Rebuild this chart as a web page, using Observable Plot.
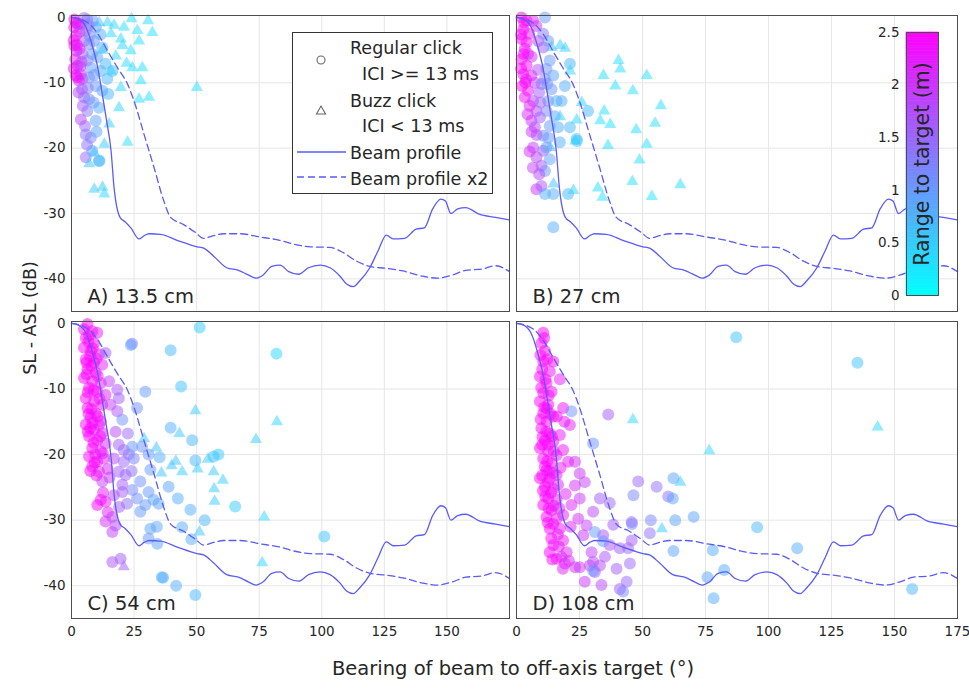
<!DOCTYPE html>
<html><head><meta charset="utf-8">
<script src="https://cdn.jsdelivr.net/npm/d3@7"></script>
<script src="https://cdn.jsdelivr.net/npm/@observablehq/plot@0.6"></script>
<style>
body{margin:0;background:#fff;font-family:"DejaVu Sans",sans-serif;}
#wrap{position:relative;width:969px;height:689px;overflow:hidden;background:#fff;}
#wrap > svg, #wrap > figure{position:absolute;margin:0;}
</style></head><body><div id="wrap"></div>
<script>
// ---------- data ----------
const beamX = [0,3,5.8,8.5,10.5,12.5,13.8,15.8,17,19.4,21.5,23.7,27,29,31,35.6,42.2,50.2,52.8,56.7,62,66.7,70.6,73.7,76.6,80,83.3,86.8,90.8,94.7,99.4,103.3,107.3,109.9,112.6,115.2,119.2,122.5,125.8,128.5,133.1,137.7,141,144.3,147.6,149.4,151.6,154.3,157.5,162.9,169.4,175];
const beamY = [0,-0.3,-1.5,-4.6,-7.7,-12.2,-15.3,-20.4,-26,-30.6,-31.3,-32.2,-33.9,-33.4,-33.1,-33.2,-34.1,-35.1,-35.3,-36.5,-38.3,-38.7,-39.4,-39.9,-39.4,-38.1,-37.9,-38.9,-39.3,-38.3,-37.9,-38.3,-39.6,-40.8,-41.2,-40.3,-38.3,-35.7,-33.3,-33.9,-33.8,-32.4,-32.2,-29.3,-27.8,-28.1,-30.0,-29.3,-29.1,-30.1,-30.6,-31.0];
const beam2X = [0,3.9,6.5,10.5,14.4,18.4,22.4,25,29,33,36.9,39.6,44.8,49.5,52.8,56.7,60.7,67.3,75.3,83.2,88.8,95.4,103.3,108.6,113.9,119.2,125.8,132.4,140.4,146.3,152.3,157.5,164.1,169.4,175];
const beam2Y = [0,-0.3,-0.8,-2.5,-5.1,-7.7,-10.2,-12.8,-17.9,-23,-28.1,-30.6,-31.7,-32.9,-33.8,-33.4,-33.1,-33.1,-33.6,-34.1,-34.7,-35.1,-35.2,-36.0,-37.3,-38.1,-38.4,-38.8,-39.6,-39.9,-39.4,-38.7,-38.5,-38.0,-38.9];

// [bearing (deg), SL-ASL (dB), range to target (m)]
const regA = [[1.1,-0.3,2.5],[1.1,-1.5,2.4],[1.7,-2.8,2.5],[1.1,-4.3,2.4],[2.0,-5.1,2.5],[1.5,-6.4,2.3],[2.4,-7.4,2.4],[1.7,-8.9,2.5],[3.0,-9.7,2.3],[3.7,-8.7,2.1],[4.4,-9.4,2.0],
[5.0,-0.1,1.5],[6.3,-0.3,1.3],[3.7,-1.0,1.8],[5.7,-2.0,1.4],[5.0,-3.6,1.6],[7.0,-4.1,1.2],[4.4,-5.6,1.7],[6.3,-6.6,1.3],[7.7,-7.7,1.0],[8.3,-5.6,1.0],[7.0,-9.2,1.2],
[5.0,-12.2,1.4],[7.0,-12.5,1.2],[6.3,-14.3,1.3],[3.7,-15.6,1.8],[5.4,-16.6,1.5],[5.7,-17.9,1.4],[7.7,-18.4,1.2],[5.7,-21.4,1.5],[11,-13.8,0.8],[14.7,-11.7,0.7],[9.7,-15.8,0.9],[11,-22,0.7],[8.3,-20.4,0.8],
[9.7,-1.5,0.9],[11.6,-2.6,0.8],[9.0,-3.6,1.0],[12.3,-4.6,0.8],[10.3,-6.1,0.9],[13.6,-7.1,0.7],[11.6,-8.2,0.8],[16.3,-8.2,0.6],[14.3,-9.4,0.7],[9.7,-10.5,1.0],[12.3,-11.2,0.9],[11.1,-21.9,0.7],
[2.5,-1,2.2],[3.2,-4.8,2.0],[4,-6.8,1.9],[2.8,-11.5,1.8],[8.5,-0.5,1.1],[7.2,-2.8,1.2],[4.5,-13.5,1.6],[6.5,-10.8,1.3],[8.8,-13,1.0],[10,-17.5,0.9],[9,-8.8,1.0],
[1.8,-0.8,2.4],[0.9,-3.5,2.5],[2.2,-4.2,2.4],[0.9,-7.8,2.5],[2.4,-9.2,2.4],[3.2,-2.2,2.1],[6.8,-1.2,1.3],[3.5,-7.5,1.9],[4.2,-11,1.6],[6.2,-19.5,1.4]];
const buzzA = [[14.4,-0.8,0.4],[24,-0.2,0.3],[30.6,-0.5,0.3],[32.3,-2.3,0.3],[26.3,-2.0,0.3],[19.7,-3.3,0.4],[15.8,-2.5,0.4],[27,-3.6,0.3],[23.7,-5.1,0.3],[20.4,-4.3,0.4],[17.7,-5.9,0.4],[28.3,-7.7,0.3],[24.3,-7.7,0.3],[15.8,-8.2,0.5],[27.7,-9.7,0.3],[19.7,-10.7,0.4],[50.1,-10.7,0.3],[27,-12.5,0.3],[31,-12.2,0.3],[19,-13.8,0.4],[15.1,-16.3,0.5],[22.4,-19.1,0.3],[13.1,-19.4,0.5],[9.1,-20.7,0.6],[7.1,-22.4,0.6],[9.1,-26.3,0.5],[12.4,-26,0.5],[13.1,-27,0.4],[11.1,-0.8,0.6],[21,-1.5,0.35],[17,-1.2,0.4],[22,-7,0.35],[12.5,-5,0.5]];

const regB = [[2.0,0,2.5],[4.0,-0.5,2.4],[2.7,-1.8,2.5],[2.0,-3.3,2.5],[3.3,-4.8,2.4],[2.0,-6.4,2.5],[4.0,-7.4,2.4],[2.7,-8.7,2.5],[4.6,-11.2,2.3],[3.3,-12.2,2.4],[5.9,-8.9,2.2],[4.6,-5.6,2.3],[6.6,-0.5,2.2],[7.9,-1.3,2.0],
[6.6,-12.8,1.9],[7.9,-14.3,1.8],[5.9,-15.8,2.0],[9.3,-15.3,1.6],[7.3,-16.8,1.8],[6.6,-19.9,1.9],[7.9,-21.4,1.8],[9.9,-22.7,1.7],[10.6,-20.4,1.6],[7.9,-26.3,2.0],[9.9,-25.8,1.7],[8.6,-3.6,1.8],[10.6,-4.6,1.6],[7.3,-10,1.9],
[11.3,0,1.0],[10.6,-2.5,1.3],[12.6,-3.6,1.0],[13.2,-6.6,1.0],[11.9,-7.9,1.1],[11.3,-9.4,1.2],[14.6,-8.9,0.9],[13.9,-11,1.0],[12.6,-12.8,1.1],[15.9,-12.8,0.8],[11.9,-14.3,1.2],[15.2,-15.1,0.9],[13.2,-16.6,1.0],[16.5,-16.8,0.8],[10.6,-18.1,1.1],[12.6,-18.4,1.0],[17.2,-19.1,0.8],[11.9,-19.9,1.0],[13.2,-21.7,0.9],[11.3,-23.5,1.0],
[21.2,-7.1,0.7],[19.2,-10.5,0.8],[17.9,-12.8,0.8],[28.4,-14.3,0.7],[21.2,-16.8,0.7],[23.8,-18.6,0.6],[14.6,-27.0,0.8],[11.3,-27.0,0.8],[20.5,-27.0,0.7],[14.6,-32.1,0.8],[24,-18.9,0.6],
[5,-2.5,2.3],[3.5,-10,2.4],[6,-6,2.1],[8.5,-8,1.7],[9,-11.5,1.6],[8,-18,1.7],[6.5,-23,1.9],[9.5,-13,1.5],
[3.0,-0.8,2.5],[1.8,-2.6,2.5],[4.0,-3.8,2.4],[2.8,-5.6,2.5],[1.8,-7.8,2.5],[3.8,-9.5,2.4],[2.2,-10.5,2.5],[5.2,-13.5,2.2],[4.4,-14.8,2.1],[6,-17.5,2.0],[5.2,-20.5,2.1],[9,-24,1.8],[10,-10.2,1.4],[12.2,-10.2,1.1]];
const buzzB = [[14,-4.6,0.6],[17.3,-4.3,0.5],[19.3,-4.7,0.5],[21.3,-8.2,0.4],[40.5,-6.6,0.3],[41.2,-7.9,0.3],[34.5,-8.9,0.3],[51.7,-8.9,0.3],[39.2,-10.5,0.3],[46.2,-11.2,0.3],[25.9,-13,0.4],[34.8,-14.3,0.3],[33.2,-15.8,0.3],[37.2,-16.4,0.3],[57.3,-13.5,0.3],[55,-16.2,0.3],[47.5,-17.2,0.3],[23.9,-15.7,0.4],[17.3,-15.2,0.5],[23.3,-18.9,0.4],[36.3,-19.6,0.3],[51.7,-19.4,0.3],[48.8,-21.8,0.3],[14.7,-25.5,0.6],[22.6,-26.5,0.4],[32.3,-26.1,0.3],[34.1,-27.5,0.3],[46.0,-25.1,0.3],[53.7,-27.4,0.25],[65,-25.6,0.3],[13.4,-19.9,0.7]];

const regC = [[6.4,-0.1,2.5],[5.0,-0.9,2.5],[8.3,-1.2,2.4],[10.3,-1.4,2.3],[5.7,-2.2,2.5],[9.0,-3.0,2.4],[5.0,-3.7,2.5],[7.7,-4.2,2.5],[11.0,-4.7,2.3],[5.7,-5.5,2.5],[9.0,-6.0,2.4],[12.3,-6.3,2.2],[6.4,-7.0,2.5],[9.7,-7.5,2.4],[5.0,-8.3,2.5],[8.3,-8.8,2.5],[11.7,-9.1,2.3],[7.0,-9.8,2.5],[10.3,-10.4,2.4],[13.6,-10.9,2.2],[5.7,-11.4,2.5],[9.0,-11.9,2.5],[12.3,-12.4,2.3],[6.4,-12.9,2.5],[9.7,-13.7,2.4],[7.7,-14.4,2.5],[11.7,-14.9,2.3],[5.7,-15.4,2.5],[9.0,-16.2,2.4],[12.3,-16.7,2.2],[7.0,-17.2,2.5],[10.3,-17.8,2.4],[13.6,-18.3,2.1],[8.3,-19.0,2.5],[11.7,-19.5,2.3],[7.0,-20.3,2.5],[10.3,-21.1,2.4],[13.0,-20.6,2.2],[8.3,-21.8,2.4],[11.0,-22.6,2.2],[12.3,-24.1,1.9],[11.7,-26.9,2.4],[13.6,-27.2,2.3],[10.3,-27.7,2.5],[13.6,-30.2,2.1],[16.3,-31.8,1.9],
[6,-6,2.5],[7,-1.8,2.5],[8,-6.5,2.5],[6.5,-10.5,2.5],[8,-13,2.5],[10.5,-8,2.4],[7.5,-16,2.5],[9.5,-20,2.4],[11,-15.5,2.3],[8.5,-3.8,2.5],
[6.8,-2.8,2.5],[7.5,-5,2.5],[10,-5.4,2.4],[6,-7.8,2.5],[8.8,-10.2,2.5],[11.2,-11.5,2.4],[6.8,-13.8,2.5],[10.5,-14.2,2.4],[8.4,-15.2,2.5],[6.5,-16.5,2.5],[11.5,-17.2,2.4],[8.8,-18.2,2.5],[12.5,-19.8,2.3],[9.2,-21.2,2.5],[7.5,-22.5,2.5],[10,-23.2,2.4],[14.4,-22.2,2.2],[12.6,-25.8,2.3],[14.5,-28.8,2.2],[15.2,-23.5,2.0],
[15,-8.8,1.9],[18.3,-10.1,1.7],[18.9,-11.4,1.6],[15.6,-12.4,1.9],[18.3,-13.4,1.7],[18.9,-18.5,1.6],[20.9,-19.3,1.5],[16.9,-20.6,1.8],[20.9,-21.1,1.5],[22.9,-20.0,1.4],[18.9,-22.6,1.6],[21.6,-23.1,1.5],[20.3,-24.6,1.6],[16.9,-26.2,1.8],[20.3,-25.7,1.6],[16.3,-29.5,1.9],[17.6,-30.8,1.8],[16.3,-36.4,1.7],[19.6,-35.9,1.6],[24.2,-3.1,1.3],[13.6,-4.5,1.6],[17.6,-16.5,1.8],[22.5,-16.8,1.5],[24,-22.5,1.4],[22.2,-27.5,1.4],[19,-28,1.6],
[29.5,-10.4,1.0],[26.2,-12.9,1.1],[20.3,-14.7,1.1],[28.2,-18.8,1.1],[30.8,-20.0,1.0],[24.9,-20.6,1.2],[31.5,-22.3,1.0],[27.5,-24.1,1.1],[30.8,-25.7,1.0],[26.2,-26.7,1.1],[29.5,-27.7,1.0],[32.8,-26.9,0.9],[27.5,-28.7,1.0],[34.8,-27.5,0.9],[31.5,-31.3,0.9],[34.1,-31.0,0.9],[30.8,-32.8,1.0],[36.1,-38.7,0.8],[38.8,-24.9,0.9],[24.3,-25.4,1.2],
[23.7,-3.3,0.9],[39.6,-4.1,0.7],[51.2,-0.6,0.5],[81.9,-4.6,0.4],[43.8,-9.6,0.6],[39.6,-15.9,0.8],[48.2,-17.8,0.7],[24.3,-18.8,1.0],[35.2,-20.4,0.8],[49.5,-20.9,0.7],[58.7,-20.0,0.5],[56.8,-20.3,0.6],[42.5,-26.7,0.8],[47.5,-28.4,0.8],[53.2,-30.0,0.7],[65.4,-27.9,0.5],[44.2,-31.1,0.8],[47.9,-32.9,0.8],[36.6,-38.8,0.8],[41.8,-40.0,0.8],[49.5,-41.4,0.7],[34.3,-33.6,0.9],[101,-32.5,0.6]];
const buzzC = [[49.5,-13.3,0.5],[82.1,-15.0,0.4],[43.1,-16.8,0.5],[73.7,-17.7,0.5],[29,-17.6,0.6],[33.9,-19,0.6],[41.7,-21,0.6],[40,-21.7,0.6],[44.2,-22.6,0.5],[35.9,-22.8,0.6],[54.5,-20.7,0.5],[50.4,-22.2,0.5],[56.8,-22.6,0.5],[60.5,-23.9,0.5],[57,-25.2,0.5],[57.2,-27.1,0.5],[77,-29.5,0.4],[51.1,-31.8,0.6],[76.2,-36.5,0.4],[20.9,-37.1,1.6]];

const regD = [[10.6,-1.4,2.5],[9.9,-3.0,2.5],[11.3,-4.2,2.5],[10.6,-5.8,2.5],[13.2,-7.3,2.4],[9.3,-8.1,2.5],[11.9,-9.1,2.5],[10.6,-10.6,2.5],[13.9,-10.4,2.4],[9.3,-11.9,2.5],[12.6,-12.4,2.5],[10.6,-13.7,2.5],[14.6,-14.2,2.4],[11.9,-15.0,2.5],[9.9,-16.0,2.5],[13.2,-16.8,2.5],[11.3,-17.8,2.5],[14.6,-18.0,2.4],[9.3,-19.0,2.5],[12.6,-19.5,2.5],[15.9,-20.1,2.3],[10.6,-20.6,2.5],[13.9,-21.3,2.4],[11.9,-22.4,2.5],[9.3,-23.6,2.5],[13.2,-23.6,2.4],[15.9,-23.1,2.3],[11.3,-24.9,2.5],[14.6,-25.2,2.4],[12.6,-26.7,2.5],[15.9,-26.9,2.3],[10.6,-27.7,2.5],[13.9,-28.5,2.4],[11.9,-29.5,2.5],[15.9,-29.8,2.3],[18.5,-29.2,2.2],[13.2,-31.3,2.5],[17.2,-31.3,2.3],[14.6,-33.8,2.4],[18.5,-33.1,2.3],[19.9,-34.9,2.2],[15.9,-35.9,2.4],[19.2,-36.6,2.3],[13.2,-34.9,2.5],[23.2,-37.2,2.1],[20.5,-21.1,2.3],[18.5,-19.3,2.3],[18.5,-12.9,2.4],[21.2,-15.5,2.2],[17.2,-17.0,2.3],[11,-2.2,2.5],[10.2,-7,2.5],[12,-13,2.5],[10.2,-18.5,2.5],[12.2,-21,2.5],[10.5,-25.5,2.5],
[9.5,-4.8,2.5],[12.2,-5.5,2.5],[11.5,-8.5,2.5],[9.8,-9.8,2.5],[12.8,-11,2.4],[11,-12.8,2.5],[13.5,-13.8,2.4],[9.6,-14.6,2.5],[11.8,-16.5,2.5],[14,-17.2,2.4],[10.3,-17.3,2.5],[12.5,-18.5,2.5],[14.8,-19.5,2.3],[11.2,-21.8,2.5],[13,-22.5,2.4],[14.6,-22.8,2.3],[10.2,-23.2,2.5],[12.4,-24.2,2.5],[16.5,-24.6,2.2],[13.8,-25.8,2.4],[11.4,-26.4,2.5],[14.8,-27.8,2.3],[12.8,-28.2,2.5],[17,-28.2,2.2],[12.4,-30.4,2.5],[14.6,-30.6,2.4],[16.4,-32.2,2.3],[13.8,-32.8,2.5],[16.8,-34,2.3],[17.8,-35.6,2.2],[14.2,-36,2.4],[20.8,-36.2,2.1],[18.4,-37.4,2.2],[21.5,-31,2.2],[19.5,-26,2.2],[17.5,-22,2.3],[19,-15,2.3],[16,-14.2,2.4],[17.2,-8.5,2.3],[14.6,-5.8,2.4],
[23.2,-21.1,2.1],[25.1,-22.9,2.0],[23.2,-24.7,2.1],[27.1,-24.2,1.9],[25.1,-26.7,2.0],[21.8,-27.7,2.2],[24.5,-29.8,2.1],[27.8,-30.8,1.9],[30.4,-28.7,1.8],[26.5,-32.3,2.0],[29.8,-34.9,1.9],[25.1,-37.2,2.0],[29.1,-36.9,1.9],[33.1,-36.9,1.8],[27.1,-39.4,2.0],[33.7,-39.9,1.8],
[36.4,-13.9,1.6],[48.3,-24.1,1.5],[33.1,-26.7,1.6],[37.0,-27.4,1.5],[38.4,-30.7,1.6],[34.4,-32.3,1.7],[41.0,-34.3,1.6],[44.3,-34.3,1.5],[45.7,-33.1,1.6],[37.0,-33.8,1.7],[39.7,-37.4,1.6],[45.0,-36.6,1.5],[41.0,-40.5,1.6],[43.7,-39.4,1.5],[35.1,-35.6,1.7],[30.4,-36.4,1.8],[31.1,-37.9,1.7],[55.6,-24.9,1.4],[60.2,-26.4,1.4],[52.9,-32.0,1.4],[45.7,-30.3,1.5],
[21.8,-13.4,1.1],[30.4,-18.3,1.1],[31.1,-31.8,1.0],[34.4,-33.2,1.0],[30.4,-37.7,1.0],[62.3,-23.6,0.9],[42.3,-40.9,1.2],
[87.2,-2.1,0.6],[62.0,-26.7,0.9],[63,-30.0,0.9],[70.3,-29.5,0.9],[62.3,-34.7,0.9],[77.9,-34.6,0.8],[75.8,-38.7,0.9],[82.4,-37.6,0.8],[78.2,-41.9,0.8],[53.3,-30.0,1.2],[46.4,-26.2,1.2],[45.8,-30.6,1.2],[135.3,-6.0,0.6],[95.5,-31.1,0.7],[111.4,-34.3,0.8],[157,-40.5,0.7]];
const buzzD = [[46.2,-14.7,0.4],[76.5,-19.4,0.4],[65,-24.2,0.5],[57.7,-31.3,0.5],[143.3,-15.8,0.4]];

const panelLabels = ["A) 13.5 cm", "B) 27 cm", "C) 54 cm", "D) 108 cm"];
const gridX = [25,50,75,100,125,150];
const gridY = [-10,-20,-30,-40];
const yTickVals = [0,-10,-20,-30,-40];
const xTicksC = [0,25,50,75,100,125,150];
const xTicksD = [0,25,50,75,100,125,150,175];
const cbTicks = [0,0.5,1,1.5,2,2.5];
const legendLabels = ["Regular click", "ICI >= 13 ms", "Buzz click", "ICI < 13 ms", "Beam profile", "Beam profile x2"];

// ---------- drawing ----------
const FONT = "DejaVu Sans";
const TXT = "#262626";
const LINE = "#5b5bf7";
const colorOpt = {type: "linear", domain: [0, 2.5], range: ["#00ffff", "#ff00ff"], interpolate: "rgb"};
const profile = beamX.map((x, i) => ({x, y: beamY[i]}));
const profile2 = beam2X.map((x, i) => ({x, y: beam2Y[i]}));
const wrap = document.getElementById("wrap");

function panel({reg, buzz, label, left, top, ml, mr, mt, mb, fw, fh, xTicks, yTicks}) {
  const p = Plot.plot({
    width: ml + fw + mr, height: mt + fh + mb,
    marginLeft: ml, marginRight: mr, marginTop: mt, marginBottom: mb,
    style: {background: "transparent", fontFamily: FONT, fontSize: "13.5px", color: TXT, overflow: "visible"},
    x: {domain: [0, 175], axis: xTicks ? "bottom" : null, ticks: xTicks, tickSize: 0, tickPadding: 8, label: null},
    y: {domain: [-45, 0.3], axis: yTicks ? "left" : null, ticks: yTicks, tickSize: 0, tickPadding: 6, label: null, tickFormat: d => String(d)},
    color: colorOpt,
    marks: [
      Plot.ruleX(gridX, {stroke: "#e6e6e6"}),
      Plot.ruleY(gridY, {stroke: "#e6e6e6"}),
      Plot.dot(reg, {x: d => d[0], y: d => d[1], fill: d => d[2], r: 6, symbol: "circle", fillOpacity: 0.5, stroke: "none"}),
      Plot.dot(buzz, {x: d => d[0], y: d => d[1], fill: d => d[2], r: 4.5, symbol: "triangle", fillOpacity: 0.5, stroke: "none"}),
      Plot.line(profile, {x: "x", y: "y", stroke: LINE, strokeWidth: 1.3, curve: "monotone-x"}),
      Plot.line(profile2, {x: "x", y: "y", stroke: LINE, strokeWidth: 1.3, strokeDasharray: "7,4", curve: "monotone-x"}),
      Plot.frame({stroke: "#4d4d4d"}),
      Plot.text([label], {text: d => d, frameAnchor: "bottom-left", dx: 16, dy: -9, lineAnchor: "bottom", textAnchor: "start", fontSize: 19.5, fill: TXT})
    ]
  });
  p.style.left = left + "px";
  p.style.top = top + "px";
  wrap.appendChild(p);
}

panel({reg: regA, buzz: buzzA, label: panelLabels[0], left: 0, top: 0, ml: 71, mr: 3, mt: 15, mb: 3, fw: 438, fh: 296, xTicks: null, yTicks: yTickVals});
panel({reg: regB, buzz: buzzB, label: panelLabels[1], left: 513, top: 0, ml: 3, mr: 9, mt: 15, mb: 3, fw: 441, fh: 296, xTicks: null, yTicks: null});
panel({reg: regC, buzz: buzzC, label: panelLabels[2], left: 0, top: 306, ml: 71, mr: 3, mt: 15, mb: 40, fw: 438, fh: 297, xTicks: xTicksC, yTicks: yTickVals});
panel({reg: regD, buzz: buzzD, label: panelLabels[3], left: 513, top: 306, ml: 3, mr: 9, mt: 15, mb: 40, fw: 441, fh: 297, xTicks: xTicksD, yTicks: null});

// colorbar
const cbStep = 0.025;
const strips = d3.range(0, 2.5, cbStep);
const cb = Plot.plot({
  width: 40 + 32 + 4, height: 5 + 263 + 5,
  marginLeft: 40, marginRight: 4, marginTop: 5, marginBottom: 5,
  style: {background: "transparent", fontFamily: FONT, fontSize: "13.5px", color: TXT, overflow: "visible"},
  x: {domain: [0, 1], axis: null},
  y: {domain: [0, 2.5], ticks: cbTicks, tickSize: 0, tickPadding: 7, label: null, tickFormat: d => String(d)},
  color: colorOpt,
  marks: [
    Plot.rect(strips, {x1: 0, x2: 1, y1: d => d, y2: d => Math.min(2.5, d + cbStep), fill: d => d + cbStep / 2, stroke: d => d + cbStep / 2, strokeWidth: 0.6}),
    Plot.frame({stroke: "#4d4d4d"}),
    Plot.text(["Range to target (m)"], {text: d => d, frameAnchor: "middle", rotate: -90, fontSize: 20.5, fill: TXT})
  ]
});
cb.style.left = (906 - 40) + "px";
cb.style.top = (32 - 5) + "px";
wrap.appendChild(cb);

// overlay: axis titles and legend
const NS = "http://www.w3.org/2000/svg";
const ov = document.createElementNS(NS, "svg");
ov.setAttribute("width", 969); ov.setAttribute("height", 689);
ov.style.left = "0px"; ov.style.top = "0px"; ov.style.pointerEvents = "none";
ov.setAttribute("font-family", FONT);
function el(tag, attrs, text) {
  const e = document.createElementNS(NS, tag);
  for (const k in attrs) e.setAttribute(k, attrs[k]);
  if (text != null) e.textContent = text;
  ov.appendChild(e);
  return e;
}
el("text", {x: 513, y: 675, "text-anchor": "middle", "font-size": 19.5, fill: TXT}, "Bearing of beam to off-axis target (°)");
el("text", {transform: "translate(36,318) rotate(-90)", "text-anchor": "middle", "font-size": 17.5, fill: TXT}, "SL - ASL (dB)");
// legend box
const LX = 292, LY = 32;
el("rect", {x: LX + 0.5, y: LY + 0.5, width: 200, height: 161, fill: "#fff", stroke: "#333", "stroke-width": 1});
el("circle", {cx: LX + 29, cy: LY + 28, r: 4, fill: "none", stroke: "#666", "stroke-width": 1.1});
el("path", {d: `M${LX + 29},${LY + 74} L${LX + 33.5},${LY + 82} L${LX + 24.5},${LY + 82} Z`, fill: "none", stroke: "#666", "stroke-width": 1.1});
el("line", {x1: LX + 5, x2: LX + 54, y1: LY + 120, y2: LY + 120, stroke: LINE, "stroke-width": 1.3});
el("line", {x1: LX + 5, x2: LX + 54, y1: LY + 145, y2: LY + 145, stroke: LINE, "stroke-width": 1.3, "stroke-dasharray": "7,4"});
const lgPos = [[58, 22], [70, 48], [58, 75], [70, 100], [58, 127], [58, 153]];
legendLabels.forEach((t, i) => el("text", {x: LX + lgPos[i][0], y: LY + lgPos[i][1], "font-size": 17.5, fill: TXT}, t));
wrap.appendChild(ov);
</script>
</body></html>
